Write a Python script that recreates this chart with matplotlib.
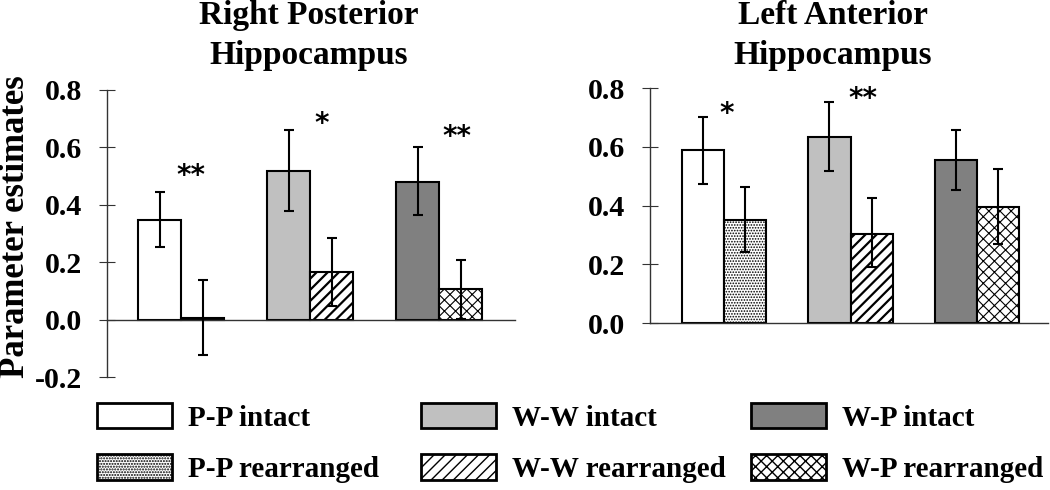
import matplotlib
matplotlib.use("Agg")
import matplotlib.pyplot as plt
from matplotlib.patches import Patch
import numpy as np

# ---------------- data ----------------
groups = ["P-P", "W-W", "W-P"]
series_labels = ["P-P intact", "P-P rearranged", "W-W intact",
                 "W-W rearranged", "W-P intact", "W-P rearranged"]

# Right Posterior Hippocampus
rp_intact = [0.348, 0.518, 0.481]
rp_intact_err_lo = [0.094, 0.141, 0.117]
rp_intact_err_hi = [0.095, 0.141, 0.120]
rp_rear = [0.007, 0.165, 0.107]
rp_rear_err_lo = [0.129, 0.119, 0.105]
rp_rear_err_hi = [0.132, 0.120, 0.100]
rp_stars = ["**", "*", "**"]
rp_star_x = [0.08, 1.09, 2.14]
rp_star_y = [0.50, 0.68, 0.635]

# Left Anterior Hippocampus
la_intact = [0.590, 0.633, 0.554]
la_intact_err_lo = [0.117, 0.114, 0.102]
la_intact_err_hi = [0.111, 0.118, 0.102]
la_rear = [0.350, 0.304, 0.396]
la_rear_err_lo = [0.109, 0.114, 0.126]
la_rear_err_hi = [0.113, 0.122, 0.128]
la_stars = ["*", "**"]
la_star_x = [0.02, 1.095]
la_star_y = [0.712, 0.763]

rp_yticks = [-0.2, 0.0, 0.2, 0.4, 0.6, 0.8]
la_yticks = [0.0, 0.2, 0.4, 0.6, 0.8]

# ---------------- styles ----------------
intact_colors = ["white", "#c0c0c0", "#808080"]
rear_hatches = ["......", "///", "xxx"]
rear_hatch_lw = [0.8, 1.6, 0.8]

plt.rcParams['font.family'] = ['Liberation Serif', 'DejaVu Serif']
plt.rcParams['font.weight'] = 'bold'

fig = plt.figure(figsize=(10.5, 4.9), dpi=100)
W, H = 1050, 490
ax1 = fig.add_axes([107 / W, 1 - 377 / H, 408 / W, 287 / H])
ax2 = fig.add_axes([650 / W, 1 - 323 / H, 398 / W, 235 / H])

bw = 0.333
x = np.arange(len(groups))


def draw_panel(ax, intact, ilo, ihi, rear, rlo, rhi, ylim, yticks, xlim):
    for i in range(len(groups)):
        ax.bar(x[i] - bw / 2, intact[i], bw, color=intact_colors[i],
               edgecolor="black", linewidth=1.5, zorder=2)
        with plt.rc_context({'hatch.linewidth': rear_hatch_lw[i]}):
            b = ax.bar(x[i] + bw / 2, rear[i], bw, color="white",
                       edgecolor="black", linewidth=1.5,
                       hatch=rear_hatches[i], zorder=2)
        for p in b:
            if hasattr(p, "set_hatch_linewidth"):
                p.set_hatch_linewidth(rear_hatch_lw[i])
    ax.errorbar(x - bw / 2, intact, yerr=[ilo, ihi], fmt="none",
                ecolor="black", elinewidth=1.5, capsize=3.5,
                capthick=1.5, zorder=3)
    ax.errorbar(x + bw / 2, rear, yerr=[rlo, rhi], fmt="none",
                ecolor="black", elinewidth=1.5, capsize=3.5,
                capthick=1.5, zorder=3)
    ax.set_xlim(*xlim)
    ax.set_ylim(*ylim)
    ax.set_yticks(yticks)
    ax.set_yticklabels([f"{v:.1f}" for v in yticks])
    for s in ["top", "right"]:
        ax.spines[s].set_visible(False)
    ax.spines["left"].set_bounds(ylim[0], ylim[1])
    ax.spines["left"].set_color("#333333")
    ax.spines["left"].set_linewidth(1.0)
    ax.spines["bottom"].set_position(("data", 0))
    ax.spines["bottom"].set_color("#333333")
    ax.spines["bottom"].set_linewidth(1.0)
    ax.set_xticks([])
    ax.tick_params(axis="y", direction="inout", length=12, width=0.8,
                   pad=12, labelsize=21.5, color="#333333")
    for t in ax.get_yticklabels():
        t.set_fontweight("bold")
    ax.patch.set_visible(False)


draw_panel(ax1, rp_intact, rp_intact_err_lo, rp_intact_err_hi,
           rp_rear, rp_rear_err_lo, rp_rear_err_hi,
           (-0.2, 0.8), rp_yticks, (-0.574, 2.589))
draw_panel(ax2, la_intact, la_intact_err_lo, la_intact_err_hi,
           la_rear, la_rear_err_lo, la_rear_err_hi,
           (0.0, 0.8), la_yticks, (-0.585, 2.561))

star_kw = dict(ha="center", va="center", fontsize=20,
               family="DejaVu Sans", fontweight="bold")
for s, sx, sy in zip(rp_stars, rp_star_x, rp_star_y):
    ax1.text(sx, sy, s, **star_kw)
for s, sx, sy in zip(la_stars, la_star_x, la_star_y):
    ax2.text(sx, sy, s, **star_kw)

# titles
fig.text(309 / W, 1.0, "Right Posterior\nHippocampus", ha="center",
         va="top", fontsize=24, fontweight="bold", linespacing=1.38)
fig.text(833 / W, 1.0, "Left Anterior\nHippocampus", ha="center",
         va="top", fontsize=24, fontweight="bold", linespacing=1.38)

# y label
fig.text(16 / W, 1 - 227 / H, "Parameter estimates", rotation=90,
         ha="center", va="center", fontsize=25, fontweight="bold")

# legend: three columns placed individually
handles = []
for i in range(3):
    h_int = Patch(facecolor=intact_colors[i], edgecolor="black", linewidth=2)
    with plt.rc_context({'hatch.linewidth': rear_hatch_lw[i]}):
        h_rear = Patch(facecolor="white", edgecolor="black", linewidth=2,
                       hatch=rear_hatches[i])
    if hasattr(h_rear, "set_hatch_linewidth"):
        h_rear.set_hatch_linewidth(rear_hatch_lw[i])
    handles.append((h_int, h_rear))

col_x = [97, 421, 751]
for i in range(3):
    fig.legend(handles=list(handles[i]),
               labels=[series_labels[2 * i], series_labels[2 * i + 1]],
               loc="upper left",
               bbox_to_anchor=(col_x[i] / W, 1 - 403 / H),
               frameon=False, borderpad=0, borderaxespad=0,
               handlelength=2.57, handleheight=0.96,
               handletextpad=0.55, labelspacing=0.78,
               prop={"family": "Liberation Serif", "weight": "bold",
                     "size": 21})

fig.savefig("out.png", dpi=100)
